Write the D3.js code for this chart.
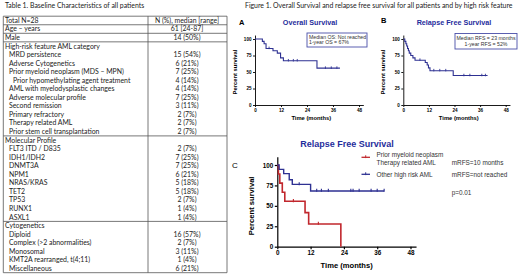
<!DOCTYPE html>
<html><head><meta charset="utf-8">
<script src="https://cdn.jsdelivr.net/npm/d3@7"></script>
<style>html,body{margin:0;padding:0;background:#fff;} svg{display:block;}</style>
</head><body><svg id="c" width="520" height="274"></svg>
<script>
// ---------- DATA ----------
const tableTitle = "Table 1. Baseline Characteristics of all patients";
const figureTitle = "Figure 1. Overall Survival and relapse free survival for all patients and by high risk feature";

const headLabels = ["Total N=28", "Age \u2013 years", "Male"];
const headValues = ["N (%), median [range]", "61 [24-87]", "14 (50%)"];

const riskLabels = ["High-risk feature AML category", "MRD persistence", "Adverse Cytogenetics",
  "Prior myeloid neoplasm (MDS \u2013 MPN)", "Prior hypomethylating agent treatment",
  "AML with myelodysplastic changes", "Adverse molecular profile", "Second remission",
  "Primary refractory", "Therapy related AML", "Prior stem cell transplantation"];
const riskValues = ["", "15 (54%)", "6 (21%)", "7 (25%)", "4 (14%)", "4 (14%)", "7 (25%)",
  "3 (11%)", "2 (7%)", "2 (7%)", "2 (7%)"];
const riskIndent = [0, 1, 1, 1, 2, 1, 1, 1, 1, 1, 1];

const molLabels = ["Molecular Profile", "FLT3 ITD / D835", "IDH1/IDH2", "DNMT3A", "NPM1",
  "NRAS/KRAS", "TET2", "TP53", "RUNX1", "ASXL1"];
const molValues = ["", "2 (7%)", "7 (25%)", "7 (25%)", "6 (21%)", "5 (18%)", "5 (18%)",
  "2 (7%)", "1 (4%)", "1 (4%)"];
const molIndent = [0, 1, 1, 1, 1, 1, 1, 1, 1, 1];

const cytoLabels = ["Cytogenetics", "Diploid", "Complex (>2 abnormalities)", "Monosomal",
  "KMT2A rearranged, t(4;11)", "Miscellaneous"];
const cytoValues = ["", "16 (57%)", "2 (7%)", "3 (11%)", "1 (4%)", "6 (21%)"];
const cytoIndent = [0, 1, 1, 1, 1, 1];

const xTicks = [0, 12, 24, 36, 48];
const yTicks = [0, 25, 50, 75, 100];

// Panel A: overall survival
const osTime = [0, 3.4, 4.2, 5.1, 8.3, 10.3, 11.8, 13.1, 28.6, 39.2];
const osSurv = [100, 96.4, 92.9, 85.7, 82.1, 78.6, 71.4, 67, 55.8, 55.8];
const osCensTime = [6.5, 15.4, 17.7, 19.5, 32.5, 35.2, 37.8];
const osCensSurv = [85.7, 67, 67, 67, 55.8, 55.8, 55.8];
const osBox = ["Median OS: Not reached", "1-year OS = 67%"];

// Panel B: relapse free survival
const rfsTime = [0, 0.7, 1.2, 1.6, 2.0, 2.4, 2.8, 3.5, 4.5, 5.5, 10.3, 11.2, 11.8, 12.5, 23.4, 39.5];
const rfsSurv = [100, 96.4, 92.9, 89.3, 85.7, 82.1, 78.6, 75, 71.4, 67.9, 64.3, 60.7, 56.3, 52, 44.6, 44.6];
const rfsCensTime = [7.8, 14.3, 17.1, 19.9, 28.4, 31.2, 36.8, 38.5];
const rfsCensSurv = [67.9, 52, 52, 52, 44.6, 44.6, 44.6, 44.6];
const rfsBox = ["Median RFS = 23 months", "1-year RFS = 52%"];

// Panel C: RFS by high risk feature
const priorTime = [0, 0.4, 0.9, 1.8, 2.7, 10, 11.3, 22.9];
const priorSurv = [100, 88.9, 77.8, 66.7, 55.6, 41.7, 27.8, 0];
const priorCensTime = [5.8, 14.8];
const priorCensSurv = [55.6, 27.8];
const otherTime = [0, 0.65, 2.3, 4.3, 5.4, 12, 38.5];
const otherSurv = [100, 94.7, 89.5, 82, 76.3, 68.2, 68.2];
const otherCensTime = [7.9, 14.2, 15.9, 18.4, 26.5, 27.3, 29.5, 33.8, 36, 38.5];
const otherCensSurv = [76.3, 68.2, 68.2, 68.2, 68.2, 68.2, 68.2, 68.2, 68.2, 68.2];
const groupNames = [["Prior myeloid neoplasm", "Therapy related AML"], ["Other high risk AML"]];
const groupMedians = ["mRFS=10 months", "mRFS=not reached"];
const pValue = "p=0.01";

// ---------- DRAW ----------
const svg = d3.select("#c");
svg.append("rect").attr("width", 520).attr("height", 274).attr("fill", "#fff");

const TFONT = "Lato, 'Open Sans', sans-serif";
const AFONT = "'Liberation Sans', Arial, sans-serif";
const BLUE = "#2e3192", RED = "#c1272d", TITLEBLUE = "#1f2d9c";
const TSIZE = 6.9;

// Table
svg.append("text").attr("x", 5).attr("y", 7.5).attr("font-family", TFONT).attr("font-size", TSIZE)
  .attr("fill", "#222").text(tableTitle);

const rows = [];
headLabels.forEach((l, i) => rows.push({ label: l, value: headValues[i], indent: 0 }));
[[riskLabels, riskValues, riskIndent], [molLabels, molValues, molIndent], [cytoLabels, cytoValues, cytoIndent]]
  .forEach(([L, V, I]) => L.forEach((l, i) => rows.push({ label: l, value: V[i], indent: I[i] })));

const tTop = 16.2, rowH = 8.55, tLeft = 3.3, tMid = 148, tRight = 227;
const rowY = d3.scaleLinear().domain([0, rows.length]).range([tTop, tTop + rowH * rows.length]);
const tg = svg.append("g").attr("font-family", TFONT).attr("font-size", TSIZE).attr("fill", "#222");
tg.selectAll("text.l").data(rows).join("text").attr("class", "l")
  .attr("x", d => 5 + d.indent * 4).attr("y", (d, i) => rowY(i + 0.5) + 2.4).text(d => d.label);
tg.selectAll("text.v").data(rows).join("text").attr("class", "v")
  .attr("x", 187).attr("text-anchor", "middle").attr("y", (d, i) => rowY(i + 0.5) + 2.4).text(d => d.value);
const borders = [0, 1, 2, 3, 3 + riskLabels.length, 3 + riskLabels.length + molLabels.length, rows.length];
const bg = svg.append("g").attr("stroke", "#555").attr("stroke-width", 0.8).attr("fill", "none");
borders.forEach(b => bg.append("line").attr("x1", tLeft).attr("x2", tRight).attr("y1", rowY(b)).attr("y2", rowY(b)));
bg.append("line").attr("x1", tLeft).attr("x2", tLeft).attr("y1", rowY(0)).attr("y2", rowY(rows.length));
bg.append("line").attr("x1", tRight).attr("x2", tRight).attr("y1", rowY(0)).attr("y2", rowY(rows.length));
bg.append("line").attr("x1", tMid).attr("x2", tMid).attr("y1", rowY(0)).attr("y2", rowY(rows.length));

svg.append("text").attr("x", 245).attr("y", 7.5).attr("font-family", TFONT).attr("font-size", TSIZE)
  .attr("fill", "#222").text(figureTitle);

function kmPanel(cfg) {
  const x = d3.scaleLinear().domain([0, cfg.xMax]).range([cfg.x0, cfg.x0 + cfg.pxm * cfg.xMax]);
  const y = d3.scaleLinear().domain([0, cfg.yMax]).range([cfg.y0, cfg.y0 - cfg.pxp * cfg.yMax]);
  const g = svg.append("g");
  const ax = g.append("g").attr("transform", `translate(0,${cfg.y0})`)
    .call(d3.axisBottom(x).tickValues(xTicks).tickSize(cfg.tick).tickSizeOuter(0).tickPadding(1.5));
  const ay = g.append("g").attr("transform", `translate(${cfg.x0},0)`)
    .call(d3.axisLeft(y).tickValues(yTicks).tickSize(cfg.tick).tickSizeOuter(0).tickPadding(1.5));
  [ax, ay].forEach(a => {
    a.selectAll("path,line").attr("stroke", "#000").attr("stroke-width", cfg.aw);
    a.selectAll("text").attr("font-family", AFONT).attr("font-size", cfg.tf).attr("font-weight", "bold").attr("fill", "#000");
  });
  g.append("text").attr("x", x(cfg.xLabelAt)).attr("y", cfg.y0 + cfg.xlDy).attr("text-anchor", "middle")
    .attr("font-family", AFONT).attr("font-weight", "bold").attr("font-size", cfg.lf).text("Time (months)");
  g.append("text").attr("transform", `translate(${cfg.x0 - cfg.ylDx},${y(50)}) rotate(-90)`).attr("text-anchor", "middle")
    .attr("font-family", AFONT).attr("font-weight", "bold").attr("font-size", cfg.lf).text("Percent survival");
  g.append("text").attr("x", cfg.titleX).attr("y", cfg.titleY).attr("text-anchor", "middle")
    .attr("font-family", AFONT).attr("font-weight", "bold").attr("font-size", cfg.titf).attr("fill", TITLEBLUE).text(cfg.title);
  if (cfg.letter) g.append("text").attr("x", cfg.letterX).attr("y", cfg.letterY)
    .attr("font-family", AFONT).attr("font-weight", cfg.letterW).attr("font-size", cfg.letterF).attr("fill", "#000").text(cfg.letter);
  const line = d3.line().x(d => x(d[0])).y(d => y(d[1])).curve(d3.curveStepAfter);
  cfg.series.forEach(s => {
    g.append("path").datum(d3.zip(s.t, s.s)).attr("d", line).attr("fill", "none")
      .attr("stroke", s.c).attr("stroke-width", s.w || cfg.lw);
    g.selectAll(null).data(d3.zip(s.ct, s.cs)).join("line")
      .attr("x1", d => x(d[0])).attr("x2", d => x(d[0]))
      .attr("y1", d => y(d[1]) - cfg.cens).attr("y2", d => y(d[1]) + cfg.cens * 0.4)
      .attr("stroke", s.c).attr("stroke-width", cfg.lw * 0.8);
  });
  return { x, y, g };
}

// Panel A
const A = kmPanel({ x0: 255, y0: 105, pxm: 26 / 12, pxp: 0.66, xMax: 50, yMax: 106, tick: 2, aw: 0.9, tf: 4.6, lf: 5.8,
  xLabelAt: 26, xlDy: 15, ylDx: 18, title: "Overall Survival", titleX: 310, titleY: 25, titf: 7.2,
  letter: "A", letterX: 239, letterY: 24.5, letterW: "bold", letterF: 7.5, lw: 1.1, cens: 1.8,
  series: [{ t: osTime, s: osSurv, ct: osCensTime, cs: osCensSurv, c: BLUE }] });
A.g.append("rect").attr("x", 307).attr("y", 33).attr("width", 60).attr("height", 14)
  .attr("fill", "#fff").attr("stroke", "#4a4fa8").attr("stroke-width", 0.9);
osBox.forEach((t, i) => A.g.append("text").attr("x", 309).attr("y", 38.8 + i * 5.6)
  .attr("font-family", AFONT).attr("font-size", 5.2).attr("fill", "#333").text(t));

// Panel B
const B = kmPanel({ x0: 403.3, y0: 105, pxm: 25.6 / 12, pxp: 0.66, xMax: 50, yMax: 106, tick: 2, aw: 0.9, tf: 4.6, lf: 5.8,
  xLabelAt: 26, xlDy: 15, ylDx: 18, title: "Relapse Free Survival", titleX: 454, titleY: 25, titf: 7.2,
  letter: "B", letterX: 381, letterY: 23, letterW: "bold", letterF: 7.5, lw: 1.1, cens: 1.8,
  series: [{ t: rfsTime, s: rfsSurv, ct: rfsCensTime, cs: rfsCensSurv, c: BLUE }] });
B.g.append("rect").attr("x", 455).attr("y", 33.5).attr("width", 62).attr("height", 15.5)
  .attr("fill", "#fff").attr("stroke", "#4a4fa8").attr("stroke-width", 0.9);
rfsBox.forEach((t, i) => B.g.append("text").attr("x", 486).attr("y", 39.8 + i * 5.8).attr("text-anchor", "middle")
  .attr("font-family", AFONT).attr("font-size", 5.2).attr("fill", "#333").text(t));

// Panel C
const C = kmPanel({ x0: 277.3, y0: 246.7, pxm: 33.3 / 12, pxp: 0.817, xMax: 50, yMax: 110, tick: 2.5, aw: 1.2, tf: 6.3, lf: 7.6,
  xLabelAt: 25, xlDy: 21, ylDx: 23, title: "Relapse Free Survival", titleX: 347, titleY: 147, titf: 9,
  letter: "C", letterX: 232, letterY: 168, letterW: "normal", letterF: 8, lw: 1.4, cens: 2.2,
  series: [{ t: priorTime, s: priorSurv, ct: priorCensTime, cs: priorCensSurv, c: RED, w: 1.6 },
           { t: otherTime, s: otherSurv, ct: otherCensTime, cs: otherCensSurv, c: BLUE }] });
const legY = [157.3, 174.3];
[RED, BLUE].forEach((c, i) => {
  C.g.append("line").attr("x1", 361.5).attr("x2", 370).attr("y1", legY[i]).attr("y2", legY[i]).attr("stroke", c).attr("stroke-width", 1.3);
  C.g.append("line").attr("x1", 365.7).attr("x2", 365.7).attr("y1", legY[i] - 2).attr("y2", legY[i] + 0.8).attr("stroke", c).attr("stroke-width", 1);
});
groupNames[0].forEach((t, i) => C.g.append("text").attr("x", 376.5).attr("y", 157.3 + i * 7.6)
  .attr("font-family", AFONT).attr("font-size", 6.4).attr("fill", "#333").text(t));
C.g.append("text").attr("x", 376.5).attr("y", 176.6).attr("font-family", AFONT).attr("font-size", 6.4).attr("fill", "#333").text(groupNames[1][0]);
groupMedians.forEach((t, i) => C.g.append("text").attr("x", 451.7).attr("y", [164.9, 176.6][i])
  .attr("font-family", AFONT).attr("font-size", 6.4).attr("fill", "#333").text(t));
C.g.append("text").attr("x", 451.7).attr("y", 194.6).attr("font-family", AFONT).attr("font-size", 6.4).attr("fill", "#333").text(pValue);
</script></body></html>
